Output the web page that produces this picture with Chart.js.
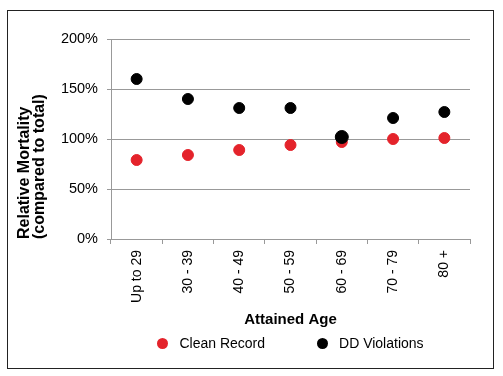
<!DOCTYPE html>
<html lang="en">
<head>
    <meta charset="UTF-8">
    <title>Relative Mortality by Attained Age</title>
    <script src="https://cdn.jsdelivr.net/npm/chart.js"></script>
    <style>
        body {
            margin: 0;
            padding: 0;
            background: #fff;
            font-family: 'Liberation Sans', Arial, sans-serif;
        }
        .wrap {
            position: relative;
            width: 503px;
            height: 376px;
        }
        /* outer frame */
        .frame {
            position: absolute;
            left: 7px;
            top: 10px;
            width: 485px;
            height: 357px;
            border: 1px solid #222;
        }
        canvas {
            position: absolute;
            left: 0;
            top: 0;
        }
        /* html legend below the axis title */
        #legend {
            position: absolute;
            top: 335px;
            display: flex;
            justify-content: center;
            gap: 52px;
            font-size: 14px;
            color: #000;
        }
        #legend .item {
            display: flex;
            align-items: center;
            white-space: nowrap;
        }
        #legend .dot {
            width: 11px;
            height: 11px;
            border-radius: 50%;
            margin-right: 11px;
        }
    </style>
</head>
<body>
    <div class="wrap">
        <div class="frame"></div>
        <canvas id="myChart" width="503" height="376"></canvas>
        <div id="legend"></div>
    </div>

    <script>
        const ageBands = ['Up to 29', '30 - 39', '40 - 49', '50 - 59', '60 - 69', '70 - 79', '80 +'];
        const cleanRecord = [79, 84, 89, 94, 97, 100, 101];
        const ddViolations = [160, 140, 131, 131, 102, 121, 127];
        const yTicks = [0, 50, 100, 150, 200];

        const red = '#e4232b';
        const black = '#000000';

        // builds the legend as html from the chart's own legend items
        const htmlLegend = {
            id: 'htmlLegend',
            afterUpdate(chart) {
                const box = document.getElementById('legend');
                box.innerHTML = '';
                box.style.left = chart.chartArea.left + 'px';
                box.style.width = (chart.chartArea.right - chart.chartArea.left) + 'px';
                const items = chart.options.plugins.legend.labels.generateLabels(chart)
                    .sort((a, b) => a.datasetIndex - b.datasetIndex);
                items.forEach(item => {
                    const el = document.createElement('div');
                    el.className = 'item';
                    const dot = document.createElement('span');
                    dot.className = 'dot';
                    dot.style.background = item.fillStyle;
                    el.appendChild(dot);
                    el.appendChild(document.createTextNode(item.text));
                    box.appendChild(el);
                });
            }
        };

        const ctx = document.getElementById('myChart').getContext('2d');

        new Chart(ctx, {
            type: 'line',
            data: {
                labels: ageBands,
                datasets: [
                    {
                        label: 'Clean Record',
                        data: cleanRecord,
                        showLine: false,
                        pointRadius: 5.5,
                        pointBackgroundColor: red,
                        pointBorderColor: red,
                        backgroundColor: red,
                        borderColor: red,
                        order: 1
                    },
                    {
                        label: 'DD Violations',
                        data: ddViolations,
                        showLine: false,
                        pointRadius: [5.5, 5.5, 5.5, 5.5, 6.5, 5.5, 5.5],
                        pointBackgroundColor: black,
                        pointBorderColor: black,
                        backgroundColor: black,
                        borderColor: black,
                        order: 0
                    }
                ]
            },
            options: {
                responsive: false,
                animation: false,
                layout: {
                    padding: { top: 39, right: 33, bottom: 47, left: 0 }
                },
                plugins: {
                    legend: { display: false },
                    tooltip: { enabled: false }
                },
                scales: {
                    x: {
                        offset: true,
                        afterFit: scale => {
                            scale.height = 90;
                        },
                        grid: {
                            offset: true,
                            drawOnChartArea: false,
                            drawTicks: true,
                            tickLength: 5,
                            color: '#999'
                        },
                        border: { color: '#999', width: 1 },
                        ticks: {
                            color: '#000',
                            font: { family: "'Liberation Sans', Arial", size: 14 },
                            minRotation: 90,
                            maxRotation: 90,
                            padding: 6
                        },
                        title: {
                            display: true,
                            text: 'Attained Age',
                            color: '#000',
                            font: { family: "'Liberation Sans', Arial", size: 15, weight: 'bold' },
                            padding: { top: 6, bottom: 0 }
                        }
                    },
                    y: {
                        min: 0,
                        max: 200,
                        afterBuildTicks: scale => {
                            scale.ticks = yTicks.map(v => ({ value: v }));
                        },
                        afterFit: scale => {
                            scale.width = 111;
                        },
                        grid: {
                            color: '#999',
                            borderDash: [7, 2, 3, 2],
                            tickBorderDash: [],
                            tickLength: 4,
                            tickColor: '#999'
                        },
                        border: { color: '#999', width: 1 },
                        ticks: {
                            color: '#000',
                            font: { family: "'Liberation Sans', Arial", size: 14.5 },
                            padding: 9,
                            callback: v => v + '%'
                        },
                        title: {
                            display: true,
                            text: ['Relative Mortality', '(compared to total)'],
                            align: 'start',
                            color: '#000',
                            font: { family: "'Liberation Sans', Arial", size: 16, weight: 'bold', lineHeight: 0.98 },
                            padding: { top: 16.5, bottom: 0 }
                        }
                    }
                }
            },
            plugins: [htmlLegend]
        });
    </script>
</body>
</html>
